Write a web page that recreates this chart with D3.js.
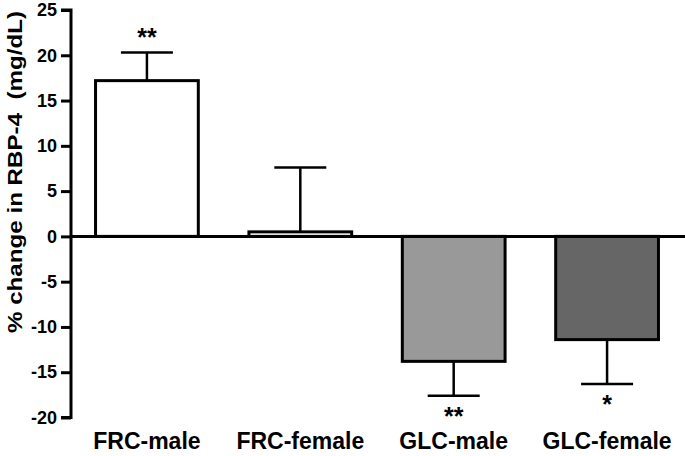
<!DOCTYPE html>
<html>
<head>
<meta charset="utf-8">
<script src="https://cdn.jsdelivr.net/npm/d3@7"></script>
<style>
  html, body { margin: 0; padding: 0; background: #fff; }
  svg { display: block; font-family: "Liberation Sans", Arial, Helvetica, sans-serif; }
</style>
</head>
<body>
<svg id="chart" width="685" height="456"></svg>
<script>
const categories = ["FRC-male", "FRC-female", "GLC-male", "GLC-female"];
const values = [17.2, 0.5, -13.8, -11.4];
const errorEnds = [20.3, 7.6, -17.6, -16.3];
const significance = ["**", "", "**", "*"];
const fills = ["#ffffff", "#ffffff", "#999999", "#666666"];
const yTicks = [-20, -15, -10, -5, 0, 5, 10, 15, 20, 25];
const yTitle = "% change in RBP-4  (mg/dL)";

const svg = d3.select("#chart");
const axisX = 71;

const y = d3.scaleLinear().domain([-20, 25]).range([417.5, 10]);
const x = d3.scaleBand().domain(categories).range([axisX, 683])
  .paddingInner(0.33).paddingOuter(0.16);

// bars
svg.append("g").selectAll("rect").data(categories).join("rect")
  .attr("x", d => x(d))
  .attr("width", x.bandwidth())
  .attr("y", (d, i) => y(Math.max(0, values[i])))
  .attr("height", (d, i) => Math.abs(y(values[i]) - y(0)))
  .attr("fill", (d, i) => fills[i])
  .attr("stroke", "#000")
  .attr("stroke-width", 3);

// error bars
const capHalf = 26;
const eb = svg.append("g").attr("stroke", "#000").attr("stroke-width", 2.5);
categories.forEach((c, i) => {
  const cx = x(c) + x.bandwidth() / 2;
  eb.append("line").attr("x1", cx).attr("x2", cx)
    .attr("y1", y(values[i])).attr("y2", y(errorEnds[i]));
  eb.append("line").attr("x1", cx - capHalf).attr("x2", cx + capHalf)
    .attr("y1", y(errorEnds[i])).attr("y2", y(errorEnds[i]));
});

// zero line
svg.append("line").attr("x1", axisX).attr("x2", 685)
  .attr("y1", y(0)).attr("y2", y(0))
  .attr("stroke", "#000").attr("stroke-width", 3);

// y axis
const yAxis = d3.axisLeft(y).tickValues(yTicks).tickSize(10).tickPadding(4).tickFormat(d => String(d));
const gy = svg.append("g").attr("transform", `translate(${axisX},0)`).call(yAxis);
gy.select(".domain").attr("stroke", "#000").attr("stroke-width", 3).attr("d", `M-10,${y(25)}H0V${y(-20)}H-10`);
gy.selectAll(".tick line").attr("stroke", "#000").attr("stroke-width", 3);
gy.selectAll(".tick text").attr("font-size", 18).attr("font-weight", "bold")
  .attr("fill", "#000").attr("font-family", "Liberation Sans, Arial, sans-serif");

// x labels
svg.append("g").selectAll("text").data(categories).join("text")
  .attr("x", d => x(d) + x.bandwidth() / 2)
  .attr("y", 449)
  .attr("text-anchor", "middle")
  .attr("font-size", 23)
  .attr("font-weight", "bold")
  .text(d => d);

// significance stars
svg.append("g").selectAll("text").data(categories).join("text")
  .attr("x", d => x(d) + x.bandwidth() / 2)
  .attr("y", (d, i) => values[i] >= 0 ? y(errorEnds[i]) - 7 : y(errorEnds[i]) + 29)
  .attr("text-anchor", "middle")
  .attr("font-size", 25)
  .attr("font-weight", "bold")
  .text((d, i) => significance[i]);

// y title
svg.append("text")
  .attr("transform", "translate(22,172) rotate(-90)")
  .attr("text-anchor", "middle")
  .attr("font-size", 20)
  .attr("font-weight", "bold")
  .attr("textLength", 322)
  .attr("lengthAdjust", "spacingAndGlyphs")
  .style("white-space", "pre")
  .text(yTitle);
</script>
</body>
</html>
